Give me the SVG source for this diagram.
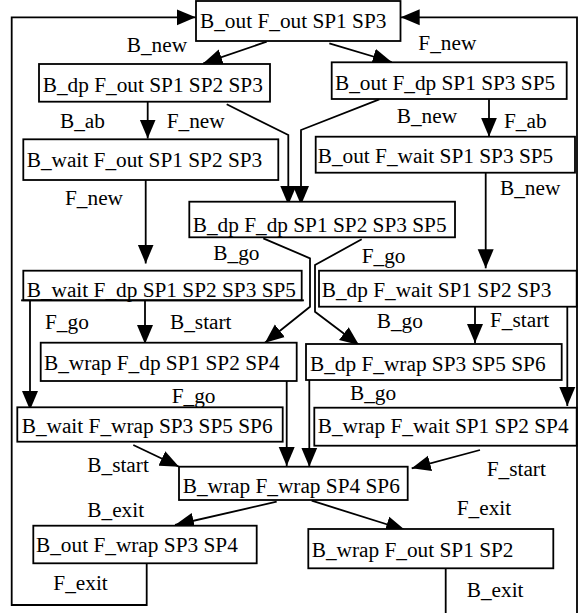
<svg xmlns="http://www.w3.org/2000/svg" width="581" height="613" viewBox="0 0 581 613">
<style>
.n rect{fill:#fff;stroke:#000;stroke-width:1.8}
text{font-family:"Liberation Serif","Times New Roman",serif;font-size:21.3px;fill:#000}
.e path{fill:none;stroke:#000;stroke-width:1.8}
</style>
<defs>
<marker id="ah" markerUnits="userSpaceOnUse" markerWidth="20" markerHeight="17" refX="19" refY="8.5" orient="auto">
<path d="M0,0.5 L19,8.5 L0,16.5 Z" fill="#000"/>
</marker>
</defs>
<rect width="581" height="613" fill="#fff"/>
<g id="edges" class="e">
<path d="M266.7,41.7 L203.3,63.3" marker-end="url(#ah)"/>
<path d="M329.3,43.3 L391.7,62" marker-end="url(#ah)"/>
<path d="M147.7,101.7 L147.7,138.5" marker-end="url(#ah)"/>
<path d="M226.7,104.3 L288.3,135 L288.3,205" marker-end="url(#ah)"/>
<path d="M379.3,99.3 L301,130 L301,205" marker-end="url(#ah)"/>
<path d="M489,99.3 L489,136.7" marker-end="url(#ah)"/>
<path d="M145.7,180 L145.7,263.5" marker-end="url(#ah)"/>
<path d="M485.7,172.7 L485.7,268.3" marker-end="url(#ah)"/>
<path d="M263.3,238.3 L310,258.3 L310,306.7 L265,342.7" marker-end="url(#ah)"/>
<path d="M361.7,239.3 L315,265 L315,311.7 L359,345" marker-end="url(#ah)"/>
<path d="M145,301 L145,344" marker-end="url(#ah)"/>
<path d="M30,301 L30,410" marker-end="url(#ah)"/>
<path d="M475,307 L475,343" marker-end="url(#ah)"/>
<path d="M567.3,307 L567.3,406" marker-end="url(#ah)"/>
<path d="M286.7,381 L286.7,466" marker-end="url(#ah)"/>
<path d="M309.3,380 L309.3,466.7" marker-end="url(#ah)"/>
<path d="M133.3,445 L179,466.7" marker-end="url(#ah)"/>
<path d="M480,450 L411.7,468.3" marker-end="url(#ah)"/>
<path d="M276.7,501.7 L175,525" marker-end="url(#ah)"/>
<path d="M311.7,500.7 L405,530" marker-end="url(#ah)"/>
<path d="M146.7,563.3 L146.7,605 L11.7,605 L11.7,17.3 L195.7,17.3" marker-end="url(#ah)"/>
<path d="M445.7,568.3 L445.7,625 L577,625 L577,17.3 L400.7,17.3" marker-end="url(#ah)"/>
<text x="126.7" y="51.7">B_new</text>
<text x="418.3" y="50">F_new</text>
<text x="60" y="128">B_ab</text>
<text x="166.7" y="128">F_new</text>
<text x="396.7" y="123.3">B_new</text>
<text x="504" y="128.3">F_ab</text>
<text x="65" y="205">F_new</text>
<text x="500" y="195">B_new</text>
<text x="213.3" y="260">B_go</text>
<text x="361.7" y="263.3">F_go</text>
<text x="170" y="329.3">B_start</text>
<text x="45" y="329.3">F_go</text>
<text x="490" y="326.7">F_start</text>
<text x="376.7" y="328">B_go</text>
<text x="171.7" y="403.3">F_go</text>
<text x="350" y="400">B_go</text>
<text x="87.3" y="471.7">B_start</text>
<text x="486.7" y="476">F_start</text>
<text x="87.3" y="516.7">B_exit</text>
<text x="456.7" y="515">F_exit</text>
<text x="53.3" y="590">F_exit</text>
<text x="466.7" y="596.7">B_exit</text>
</g>
<g id="nA" class="n"><rect x="196" y="1" width="204.5" height="40"/><text x="200" y="28">B_out F_out SP1 SP3</text></g>
<g id="nB" class="n"><rect x="39" y="64" width="231" height="37.7"/><text x="42.7" y="91.7">B_dp F_out SP1 SP2 SP3</text></g>
<g id="nC" class="n"><rect x="331.7" y="62.3" width="235" height="36.7"/><text x="335" y="90">B_out F_dp SP1 SP3 SP5</text></g>
<g id="nD" class="n"><rect x="23.3" y="139.3" width="255" height="40.7"/><text x="26.7" y="166.7">B_wait F_out SP1 SP2 SP3</text></g>
<g id="nE" class="n"><rect x="315.7" y="136.7" width="259.3" height="36"/><text x="317.7" y="163.3">B_out F_wait SP1 SP3 SP5</text></g>
<g id="nF" class="n"><rect x="189.3" y="201.7" width="265.7" height="35.6"/><text x="192.7" y="231.7">B_dp F_dp SP1 SP2 SP3 SP5</text></g>
<g id="nG" class="n"><rect x="23.3" y="270.7" width="278.4" height="29.6"/><text x="26.7" y="297">B_wait F_dp SP1 SP2 SP3 SP5</text><rect x="22" y="300.3" width="281" height="0.1" style="stroke-width:1.8"/></g>
<g id="nH" class="n"><rect x="319" y="270.7" width="257.7" height="36"/><text x="321.7" y="296.7">B_dp F_wait SP1 SP2 SP3</text></g>
<g id="nI" class="n"><rect x="40.7" y="342.7" width="256" height="38.3"/><text x="44" y="370">B_wrap F_dp SP1 SP2 SP4</text></g>
<g id="nJ" class="n"><rect x="306" y="344" width="255.7" height="36"/><text x="310" y="371">B_dp F_wrap SP3 SP5 SP6</text></g>
<g id="nK" class="n"><rect x="17.3" y="407.3" width="265.4" height="34.4"/><text x="21.7" y="433.3">B_wait F_wrap SP3 SP5 SP6</text></g>
<g id="nL" class="n"><rect x="314.3" y="407.7" width="262.4" height="38"/><text x="317.7" y="433.3">B_wrap F_wait SP1 SP2 SP4</text></g>
<g id="nM" class="n"><rect x="179" y="466.7" width="228.7" height="33.3"/><text x="182.7" y="492.7">B_wrap F_wrap SP4 SP6</text></g>
<g id="nN" class="n"><rect x="33.3" y="525.7" width="223.4" height="37.6"/><text x="36" y="551.7">B_out F_wrap SP3 SP4</text></g>
<g id="nO" class="n"><rect x="308.3" y="529" width="245" height="39.3"/><text x="311.7" y="556.7">B_wrap F_out SP1 SP2</text></g>
</svg>
